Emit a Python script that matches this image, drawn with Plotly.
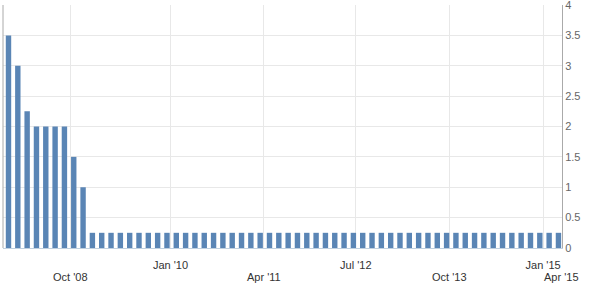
import datetime as dt
import numpy as np
import plotly.graph_objects as go

# FOMC meeting dates and the target rate decided at each (%)
meeting_dates = [
    "2008-01-22", "2008-01-30", "2008-03-18", "2008-04-30", "2008-06-25",
    "2008-08-05", "2008-09-16", "2008-10-08", "2008-10-29", "2008-12-16",
    "2009-01-28", "2009-03-18", "2009-04-29", "2009-06-24", "2009-08-12",
    "2009-09-23", "2009-11-04", "2009-12-16",
    "2010-01-27", "2010-03-16", "2010-04-28", "2010-06-23", "2010-08-10",
    "2010-09-21", "2010-11-03", "2010-12-14",
    "2011-01-26", "2011-03-15", "2011-04-27", "2011-06-22", "2011-08-09",
    "2011-09-21", "2011-11-02", "2011-12-13",
    "2012-01-25", "2012-03-13", "2012-04-25", "2012-06-20", "2012-08-01",
    "2012-09-13", "2012-10-24", "2012-12-12",
    "2013-01-30", "2013-03-20", "2013-05-01", "2013-06-19", "2013-07-31",
    "2013-09-18", "2013-10-30", "2013-12-18",
    "2014-01-29", "2014-03-19", "2014-04-30", "2014-06-18", "2014-07-30",
    "2014-09-17", "2014-10-29", "2014-12-17",
    "2015-01-28", "2015-03-18",
]
rates = [
    3.5, 3.0, 2.25, 2.0, 2.0, 2.0, 2.0, 1.5, 1.0, 0.25,
    0.25, 0.25, 0.25, 0.25, 0.25, 0.25, 0.25, 0.25,
    0.25, 0.25, 0.25, 0.25, 0.25, 0.25, 0.25, 0.25,
    0.25, 0.25, 0.25, 0.25, 0.25, 0.25, 0.25, 0.25,
    0.25, 0.25, 0.25, 0.25, 0.25, 0.25, 0.25, 0.25,
    0.25, 0.25, 0.25, 0.25, 0.25, 0.25, 0.25, 0.25,
    0.25, 0.25, 0.25, 0.25, 0.25, 0.25, 0.25, 0.25,
    0.25, 0.25,
]
tick_dates = ["2008-10-01", "2010-01-01", "2011-04-01", "2012-07-01",
              "2013-10-01", "2015-01-01", "2015-04-01"]
tick_labels = ["Oct '08", "Jan '10", "Apr '11", "Jul '12",
               "Oct '13", "Jan '15", "Apr '15"]
y_ticks = [0, 0.5, 1, 1.5, 2, 2.5, 3, 3.5, 4]

# ordinal axis: each meeting takes one slot; dates are interpolated between slots
ords = np.array([dt.date.fromisoformat(d).toordinal() for d in meeting_dates], float)
idx = np.arange(len(ords), dtype=float)

def date_to_slot(d):
    o = dt.date.fromisoformat(d).toordinal()
    if o > ords[-1]:
        return idx[-1] + (o - ords[-1]) / (ords[-1] - ords[-2])
    if o < ords[0]:
        return idx[0] - (ords[0] - o) / (ords[1] - ords[0])
    return float(np.interp(o, ords, idx))

tick_pos = [date_to_slot(d) for d in tick_dates]
# labels are staggered over two rows: odd ones on the upper row (axis tick labels),
# even ones on the lower row (annotations)
tick_text = [t if i % 2 == 1 else "" for i, t in enumerate(tick_labels)]
lower_row = [dict(x=p, y=0, xref="x", yref="paper", text=t, showarrow=False,
                  xanchor="center", yanchor="middle", yshift=-29,
                  font=dict(size=11, color="#333333"))
             for i, (p, t) in enumerate(zip(tick_pos, tick_labels)) if i % 2 == 0]

fig = go.Figure(go.Bar(
    x=idx, y=rates, width=0.58,
    marker=dict(color="#5a85b5", line=dict(width=0)),
    hoverinfo="skip",
))

fig.update_layout(
    width=593, height=284,
    margin=dict(l=3, r=31, t=5, b=36, autoexpand=False),
    paper_bgcolor="white", plot_bgcolor="white",
    showlegend=False,
    font=dict(family="Liberation Sans, Arial, sans-serif", size=11, color="#333333"),
    xaxis=dict(
        range=[-0.59, 59.38],
        tickmode="array", tickvals=tick_pos, ticktext=tick_text,
        tickangle=0, automargin=False, ticklabeloverflow="allow",
        ticklabelstandoff=7,
        showgrid=True, gridcolor="#e8e8e8", gridwidth=1,
        showline=True, linecolor="#c0d0e0", linewidth=1,
        ticks="", zeroline=False,
        tickfont=dict(size=11, color="#333333"),
    ),
    yaxis=dict(
        side="right", range=[0, 4],
        tickmode="array", tickvals=y_ticks,
        automargin=False, ticklabeloverflow="allow",
        showgrid=True, gridcolor="#e8e8e8", gridwidth=1,
        showline=True, linecolor="#aaaaaa", linewidth=1,
        ticks="", zeroline=False,
        tickfont=dict(size=11, color="#666666"),
    ),
    annotations=lower_row,
    shapes=[dict(type="line", xref="paper", yref="paper", x0=0, x1=0, y0=0, y1=1,
                 line=dict(color="#aaaaaa", width=1))],
)

fig.write_html("out.html")
